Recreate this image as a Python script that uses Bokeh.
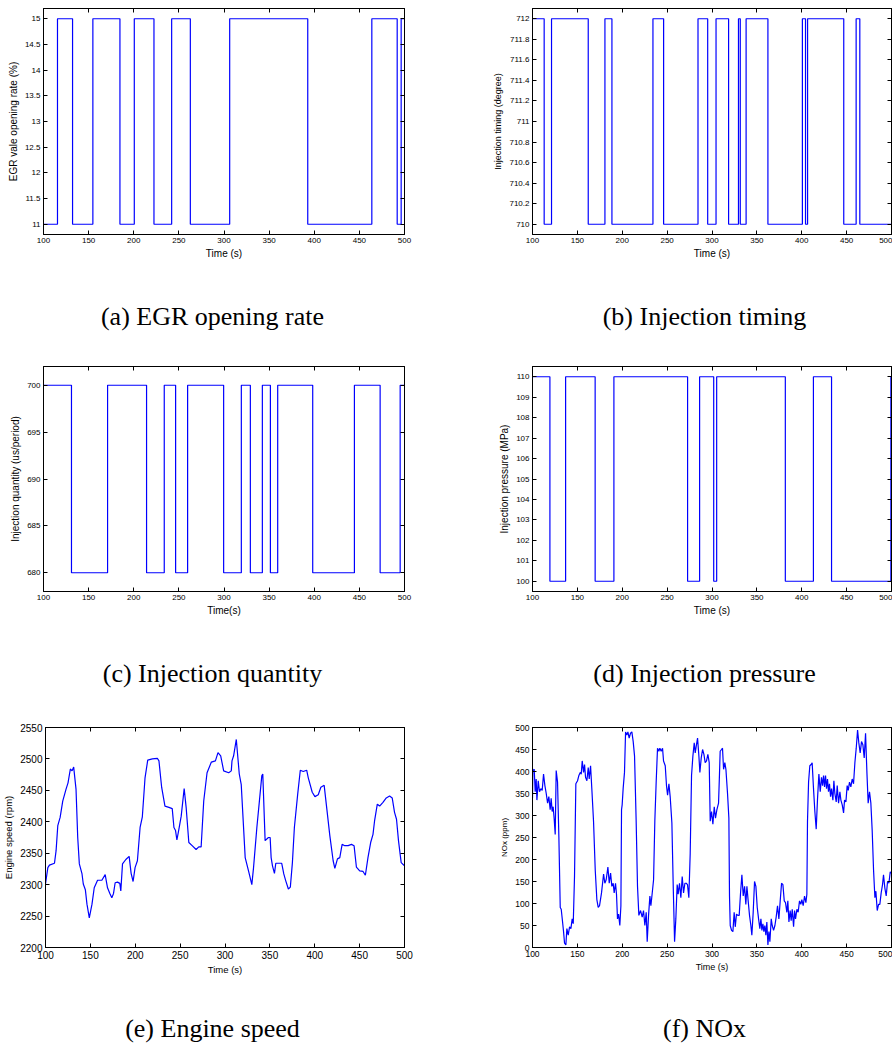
from bokeh.plotting import figure
from bokeh.layouts import column, row
from bokeh.models import Range1d, FixedTicker, LinearAxis, PrintfTickFormatter, ColumnDataSource
from bokeh.core.properties import value
from bokeh.embed import file_html
from bokeh.resources import INLINE

# ---------------- data ----------------
time_ticks = [100, 150, 200, 250, 300, 350, 400, 450, 500]

egr_time = [100, 115.5, 132.2, 154.7, 184.7, 200.6, 222.4, 242, 262.7, 306.3, 392.8, 463.8, 491.9, 496.3, 500]
egr_value = [11, 15, 11, 15, 11, 15, 11, 15, 11, 15, 11, 15, 11, 15, 15]
egr_ticks = [11, 11.5, 12, 12.5, 13, 13.5, 14, 14.5, 15]

timing_time = [100, 113, 121.2, 162.1, 180.7, 188.5, 234.2, 246.1, 284.4, 295.2, 304.5, 318.5,
               329.5, 331.5, 338, 362.3, 400.7, 404.2, 406.5, 446.8, 460.6, 464.7, 500]
timing_value = [712, 710, 712, 710, 712, 710, 712, 710, 712, 710, 712, 710,
                712, 710, 712, 710, 712, 710, 712, 710, 712, 710, 710]
timing_ticks = [710, 710.2, 710.4, 710.6, 710.8, 711, 711.2, 711.4, 711.6, 711.8, 712]

quantity_time = [100, 131, 171, 214.2, 233.8, 246.4, 259.7, 299.6, 319.2, 329.2, 342.5, 351.4,
                 359.5, 398.3, 444.5, 473, 495.2, 500]
quantity_value = [700, 680, 700, 680, 700, 680, 700, 680, 700, 680, 700, 680,
                  700, 680, 700, 680, 700, 700]
quantity_ticks = [680, 685, 690, 695, 700]

pressure_time = [100, 119.4, 136.9, 169.8, 190.7, 272.8, 286.2, 301.9, 305.2, 381.7, 413, 433.2, 499.3, 500]
pressure_value = [110, 100, 110, 100, 110, 100, 110, 100, 110, 100, 110, 100, 110, 110]
pressure_ticks = [100, 101, 102, 103, 104, 105, 106, 107, 108, 109, 110]

speed_time = [100, 102.6, 104.4, 110, 111.8, 113.7, 116.3, 119.2, 122.9, 125.1,
              127.7, 129.6, 131.4, 134, 135.9, 137.7, 140.7, 142.1, 144.4, 146.2,
              148.8, 151.8, 154.3, 158, 162.8, 166.5, 169.1, 171.7, 173.9, 175.8,
              177.6, 180.2, 182.8, 183.9, 185.8, 189.5, 193.2, 195.4, 197.6, 199.8,
              202.4, 205.4, 207.9, 210.9, 213.9, 219, 224.6, 226.4, 229.4, 233.1,
              237.5, 241.2, 243.1, 244.9, 246.4, 248.6, 251.2, 254.5, 256.7, 259.7,
              263.4, 267.8, 270.8, 273.4, 276.3, 280, 284.8, 289.3, 292.2, 295.2,
              298.5, 304.1, 307, 307.8, 309.6, 312.6, 315.9, 318.1, 322.5, 326.2,
              329.9, 331.8, 335.5, 338.4, 341, 342.1, 344.7, 348.4, 350.3, 351.4,
              352.9, 355.1, 356.6, 363.2, 365.5, 367.7, 370.6, 372.8, 375.1, 377.3,
              381, 383.9, 387.2, 391, 392.8, 397.2, 400.2, 403.9, 406.8, 410.5,
              413.1, 416.8, 420.5, 422.4, 425.3, 427.9, 430.5, 433.5, 437.2, 440.9,
              443.8, 446.4, 450.1, 453.8, 456.4, 459.3, 462.3, 464.9, 466.7, 469.7,
              472.3, 476, 479.7, 483.4, 486.3, 488.9, 491.1, 493.3, 496.3, 500]
speed_value = [2301, 2327, 2331, 2334, 2354, 2394, 2407, 2433, 2452, 2462,
               2484, 2481, 2487, 2452, 2375, 2333, 2317, 2301, 2292, 2269,
               2247, 2269, 2295, 2307, 2307, 2316, 2295, 2286, 2279, 2286,
               2303, 2304, 2302, 2290, 2333, 2340, 2345, 2318, 2305, 2327,
               2338, 2391, 2408, 2470, 2498, 2500, 2501, 2497, 2455, 2425,
               2423, 2421, 2391, 2386, 2371, 2388, 2409, 2453, 2423, 2367,
               2362, 2356, 2360, 2360, 2433, 2478, 2495, 2497, 2510, 2505,
               2481, 2478, 2481, 2497, 2505, 2531, 2476, 2459, 2343, 2322,
               2300, 2327, 2391, 2434, 2473, 2476, 2370, 2375, 2375, 2343,
               2330, 2318, 2334, 2334, 2317, 2306, 2293, 2296, 2335, 2391,
               2444, 2482, 2480, 2482, 2470, 2447, 2440, 2443, 2455, 2458,
               2425, 2378, 2338, 2326, 2341, 2343, 2364, 2362, 2362, 2364,
               2362, 2328, 2322, 2321, 2315, 2343, 2367, 2380, 2402, 2428,
               2425, 2431, 2438, 2441, 2438, 2415, 2404, 2370, 2335, 2330]
speed_ticks = [2200, 2250, 2300, 2350, 2400, 2450, 2500, 2550]

nox_readings = [
    (100, 340), (100.4, 402), (101.9, 405), (103, 354), (104.1, 383), (104.9, 335), (106.4, 379),
    (107.8, 354), (109.3, 361), (110.8, 357), (112.3, 394), (113.8, 368), (115.3, 350), (116.8, 328),
    (118.2, 343), (119.7, 313), (120.8, 339), (121.9, 309), (123, 320), (124.2, 291), (125.3, 257),
    (126.4, 402), (127.9, 376), (129.4, 250), (130.9, 91), (132, 87), (133.5, 58), (134.6, 36),
    (135.7, 10), (137.2, 6), (138.3, 43), (139.8, 28), (141.3, 47), (142.8, 43), (144.2, 65),
    (145.4, 54), (146.8, 161), (148.3, 372), (150.2, 379), (151.7, 391), (153.2, 398), (154.3, 394),
    (155.4, 424), (156.9, 398), (158, 416), (159.1, 387), (160.6, 379), (162.1, 409), (163.2, 383),
    (164.7, 413), (166.1, 361), (168, 287), (169.9, 176), (171.7, 109), (173.2, 91), (174.7, 95),
    (176.9, 124), (179.2, 167), (180.6, 146), (182.1, 154), (184, 183), (185.5, 146), (187, 169),
    (188.4, 139), (189.9, 146), (191, 124), (192.5, 146), (193.6, 121), (194.7, 65), (195.9, 76),
    (197.3, 50), (198.5, 95), (199.2, 313), (199.9, 324), (201, 361), (202.5, 398), (203.7, 490),
    (205.1, 483), (206.3, 490), (207.7, 476), (209.2, 487), (210.7, 490), (212.2, 468), (213.7, 435),
    (215.5, 287), (217, 139), (218.5, 73), (220.4, 84), (222.2, 69), (223.7, 84), (225.2, 50),
    (226.7, 80), (227.8, 13), (229.3, 73), (230.8, 117), (231.9, 95), (233.4, 124), (234.9, 154),
    (236.3, 287), (237.8, 376), (239.3, 453), (240.8, 446), (241.9, 453), (243.4, 446), (244.9, 453),
    (246, 424), (247.9, 413), (249.3, 368), (250.5, 346), (252, 372), (253.4, 343), (255.3, 283),
    (256.8, 139), (258.3, 13), (259.7, 65), (261.2, 143), (262.3, 121), (263.8, 146), (265.3, 113),
    (266.8, 161), (268.3, 124), (269.8, 146), (271.3, 146), (272.7, 143), (274.2, 113), (275.7, 213),
    (277.2, 391), (278.7, 435), (280.2, 465), (281.3, 442), (282.4, 457), (283.9, 476), (285.4, 435),
    (286.5, 398), (288, 431), (289.5, 450), (291, 439), (292.4, 420), (293.9, 424), (295.4, 439),
    (296.9, 420), (298, 287), (299.5, 309), (301, 280), (302.5, 320), (303.9, 294), (305.4, 313),
    (307.3, 328), (308.4, 398), (309.1, 446), (310.6, 450), (311.7, 453), (312.9, 405), (314.3, 420),
    (315.5, 405), (317.3, 350), (318.8, 294), (319.5, 117), (320.3, 50), (321.8, 39), (323.3, 36),
    (324.7, 80), (325.9, 47), (327.3, 76), (328.8, 73), (330.3, 73), (331.8, 124), (333.3, 165),
    (334.8, 117), (336.3, 139), (337.7, 98), (338.9, 139), (340.3, 106), (341.8, 73), (343.3, 50),
    (344.4, 28), (345.9, 80), (347.4, 150), (348.9, 139), (350.4, 91), (351.9, 65), (353.3, 43),
    (354.5, 65), (355.6, 39), (356.7, 54), (357.8, 36), (358.9, 50), (360, 28), (361.1, 58),
    (362.3, 6), (363.4, 36), (364.5, 13), (366, 65), (367.1, 50), (368.6, 39), (370.1, 50),
    (371.5, 69), (373, 95), (374.5, 65), (376, 106), (377.5, 146), (379, 143), (380.5, 106),
    (381.9, 102), (383.4, 80), (384.5, 106), (385.7, 58), (387.1, 84), (388.2, 61), (389.4, 87),
    (390.9, 47), (392, 84), (393.1, 65), (394.6, 87), (396, 80), (397.5, 106), (399, 98),
    (400.1, 109), (401.6, 95), (403.1, 117), (404.6, 102), (405.7, 121), (406.4, 287), (407.6, 376),
    (409, 413), (410.5, 416), (411.6, 420), (413.1, 361), (414.6, 309), (416.1, 269), (417.6, 339),
    (419.1, 394), (420.6, 354), (422, 387), (423.2, 368), (424.3, 391), (425.4, 365), (426.5, 391),
    (427.6, 361), (428.7, 383), (429.8, 354), (430.9, 372), (432.1, 343), (433.2, 361), (434.7, 335),
    (435.8, 379), (436.9, 350), (438.4, 331), (439.5, 368), (441, 328), (442.5, 354), (443.6, 335),
    (445.1, 324), (446.6, 306), (447.7, 335), (449.2, 331), (450.6, 368), (451.8, 357), (453.2, 376),
    (454.7, 365), (456.2, 383), (457.7, 372), (459.2, 420), (460.7, 453), (462.2, 494), (463.6, 465),
    (465.1, 442), (466.6, 468), (468.1, 461), (469.6, 431), (471.1, 487), (472.6, 398), (474, 328),
    (475.5, 354), (477, 328), (478.5, 265), (480, 176), (481.5, 113), (482.6, 128), (484.1, 84),
    (485.6, 98), (487, 98), (488.5, 124), (490, 143), (491.1, 165), (492.6, 135), (494.1, 117),
    (495.6, 150), (497.1, 146), (498.6, 172), (500, 169),
]
nox_time = [t for t, _ in nox_readings]
nox_value = [v for _, v in nox_readings]
nox_ticks = [0, 50, 100, 150, 200, 250, 300, 350, 400, 450, 500]

captions_top = ["(a) EGR opening rate", "(b) Injection timing"]
captions_mid = ["(c) Injection quantity", "(d) Injection pressure"]
captions_bot = ["(e) Engine speed", "(f) NOx"]

# ---------------- helpers ----------------
FONT = "Liberation Sans"
LINE_COLOR = "#0000ff"


def style_axis(ax, ticks, fmt, font_px, label=None, label_px=10, label_standoff=3, show=True):
    ax.ticker = FixedTicker(ticks=ticks)
    ax.major_tick_in = 4
    ax.major_tick_out = 0
    ax.minor_tick_line_color = None
    ax.axis_line_color = "black"
    ax.axis_line_width = 1
    ax.major_tick_line_color = "black"
    if show:
        ax.formatter = PrintfTickFormatter(format=fmt)
        ax.major_label_text_font = FONT
        ax.major_label_text_color = "black"
        ax.major_label_text_font_size = f"{font_px}px"
        ax.major_label_standoff = 3
    else:
        # tick marks only (MATLAB box ticks): no labels at all
        ax.major_label_text_color = None
        ax.major_label_text_font_size = "0px"
        ax.major_label_standoff = 0
    if label:
        ax.axis_label = label
        ax.axis_label_text_font = FONT
        ax.axis_label_text_font_size = f"{label_px}px"
        ax.axis_label_text_font_style = "normal"
        ax.axis_label_text_color = "black"
        ax.axis_label_standoff = label_standoff


def panel(kind, xs, ys, yr, yticks, ylabel, xlabel, left, right, top, bottom, height,
          tick_px=8, ylabel_px=10, xlabel_px=10):
    p = figure(width=446, height=height, x_range=Range1d(100, 500), y_range=Range1d(*yr),
               toolbar_location=None, output_backend="svg",
               min_border_left=left, min_border_right=right,
               min_border_top=top, min_border_bottom=bottom)
    p.xgrid.visible = False
    p.ygrid.visible = False
    p.outline_line_color = "black"
    p.outline_line_width = 1
    src = ColumnDataSource(dict(x=xs, y=ys))
    if kind == "step":
        p.step("x", "y", source=src, mode="after", line_color=LINE_COLOR, line_width=1.2)
    else:
        p.line("x", "y", source=src, line_color=LINE_COLOR, line_width=1.2)
    style_axis(p.xaxis[0], time_ticks, "%g", tick_px, xlabel, xlabel_px, 2)
    style_axis(p.yaxis[0], yticks, "%g", tick_px, ylabel, ylabel_px, 3)
    top_ax = LinearAxis()
    style_axis(top_ax, time_ticks, "%g", 0, show=False)
    p.add_layout(top_ax, "above")
    right_ax = LinearAxis()
    style_axis(right_ax, yticks, "%g", 0, show=False)
    p.add_layout(right_ax, "right")
    return p


def caption(texts, xs, height, from_top):
    p = figure(width=892, height=height, x_range=Range1d(0, 892), y_range=Range1d(0, height),
               x_axis_type=None, y_axis_type=None, toolbar_location=None,
               output_backend="svg", min_border=0, outline_line_color=None)
    src = ColumnDataSource(dict(x=xs, y=[height - from_top] * len(xs), text=texts))
    p.text("x", "y", text="text", source=src, text_font=value("Liberation Serif"),
           text_font_size="26px", text_align="center", text_baseline="middle",
           text_color="black")
    return p


# ---------------- panels ----------------
pa = panel("step", egr_time, egr_value, (10.8, 15.2), egr_ticks, "EGR vale opening rate (%)",
           "Time (s)", 43, 42, 7, 30, 264)
pb = panel("step", timing_time, timing_value, (709.9, 712.1), timing_ticks, "Injection timing (degree)",
           "Time (s)", 86, 1, 8, 30, 264, ylabel_px=9)
pc = panel("step", quantity_time, quantity_value, (678, 702), quantity_ticks,
           "Injection quantity (us/period)", "Time(s)", 43, 42, 10, 30, 265)
pd = panel("step", pressure_time, pressure_value, (99.5, 110.5), pressure_ticks,
           "Injection pressure (MPa)", "Time (s)", 86, 1, 10, 30, 265)
pe = panel("line", speed_time, speed_value, (2200, 2550), speed_ticks, "Engine speed (rpm)",
           "Time (s)", 43, 42, 12, 30, 262, tick_px=10, ylabel_px=9.5, xlabel_px=9.5)
pf = panel("line", nox_time, nox_value, (0, 500), nox_ticks, "NOx (ppm)",
           "Time (s)", 86, 1, 9, 28, 262, tick_px=8.5, ylabel_px=8, xlabel_px=9)

cap1 = caption(captions_top, [212, 704], 92, 52)
cap2 = caption(captions_mid, [212, 704], 94, 52)
cap3 = caption(captions_bot, [212, 704], 69, 51)

layout = column(row(pa, pb), cap1, row(pc, pd), cap2, row(pe, pf), cap3)

open("out.html", "w").write(file_html(layout, INLINE))
